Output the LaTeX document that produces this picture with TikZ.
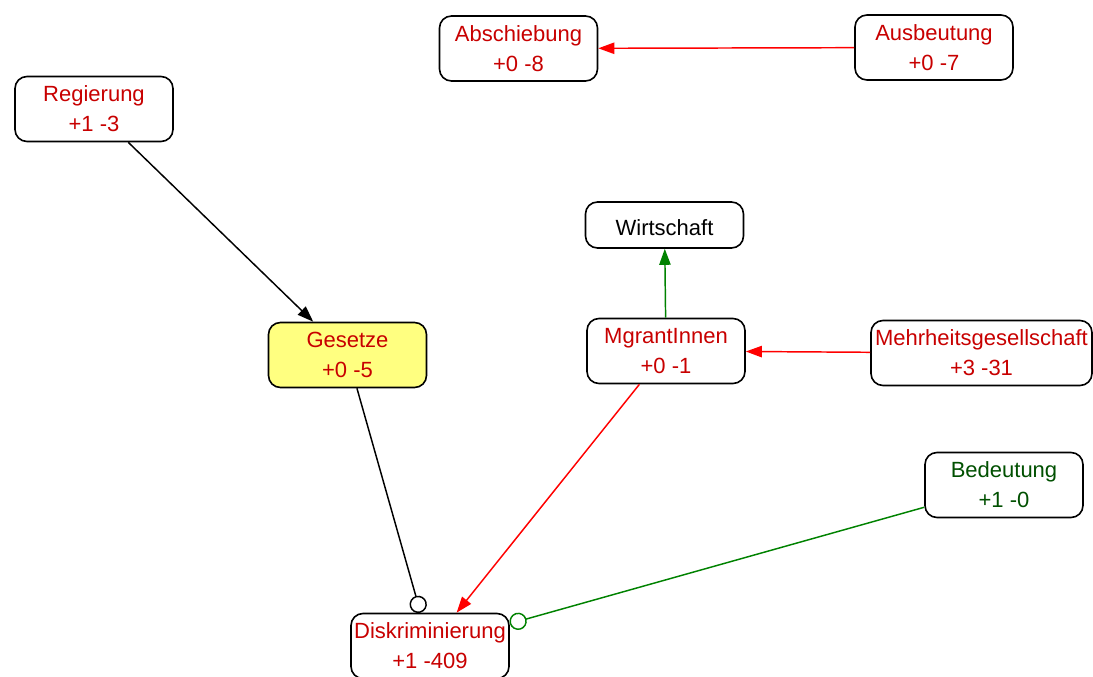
\documentclass[tikz,border=0pt]{standalone}
\usepackage{fontspec}
\setmainfont{Liberation Sans}
\usetikzlibrary{arrows.meta}
\definecolor{txtred}{RGB}{200,0,0}
\definecolor{txtgreen}{RGB}{0,80,0}
\definecolor{edgered}{RGB}{255,0,0}
\definecolor{edgegreen}{RGB}{0,130,0}
\definecolor{lawfill}{RGB}{255,255,128}

\begin{document}
\begin{tikzpicture}[x=0.75pt,y=-0.75pt,
  concept/.style={draw, rounded corners=9pt, line width=1.2pt,
    minimum width=118.5pt, minimum height=48.75pt, align=center,
    inner sep=0pt, font=\fontsize{16.5}{22.5}\selectfont, text=txtred, fill=white,
    execute at begin node={\rule{0pt}{16.5pt}}},
  link/.style={line width=1.1pt},
  plusedge/.style={link, -{Triangle[length=12pt,width=8.5pt]}},
  minusedge/.style={link, -{Circle[open,length=13pt,width=13pt,fill=white]}},
]
\useasboundingbox (0,0) rectangle (1093,677);

% concepts
\node[concept] (abs) at (518.5,48.5) {Abschiebung\\+0 -8};
\node[concept] (aus) at (934,47.5) {Ausbeutung\\+0 -7};
\node[concept] (reg) at (94,109) {Regierung\\+1 -3};
\node[concept, minimum height=34.5pt, text=black] (wir) at (664.5,225) {Wirtschaft};
\node[concept, fill=lawfill] (ges) at (347.5,355) {Gesetze\\+0 -5};
\node[concept] (mig) at (666,351) {MgrantInnen\\+0 -1};
\node[concept, minimum width=165.75pt] (meh) at (981.5,353) {Mehrheitsgesellschaft\\+3 -31};
\node[concept, text=txtgreen] (bed) at (1004,485) {Bedeutung\\+1 -0};
\node[concept] (dis) at (430,646) {Diskriminierung\\+1 -409};

% influences
\draw[plusedge, edgered] (aus) -- (abs);
\draw[plusedge, black] (reg) -- (ges);
\draw[plusedge, edgegreen] (mig) -- (wir);
\draw[plusedge, edgered] (meh) -- (mig);
\draw[plusedge, edgered] (mig) -- (dis);
\draw[minusedge, black] (ges) -- (dis);
\draw[minusedge, edgegreen] (bed) -- (dis);
\end{tikzpicture}
\end{document}
